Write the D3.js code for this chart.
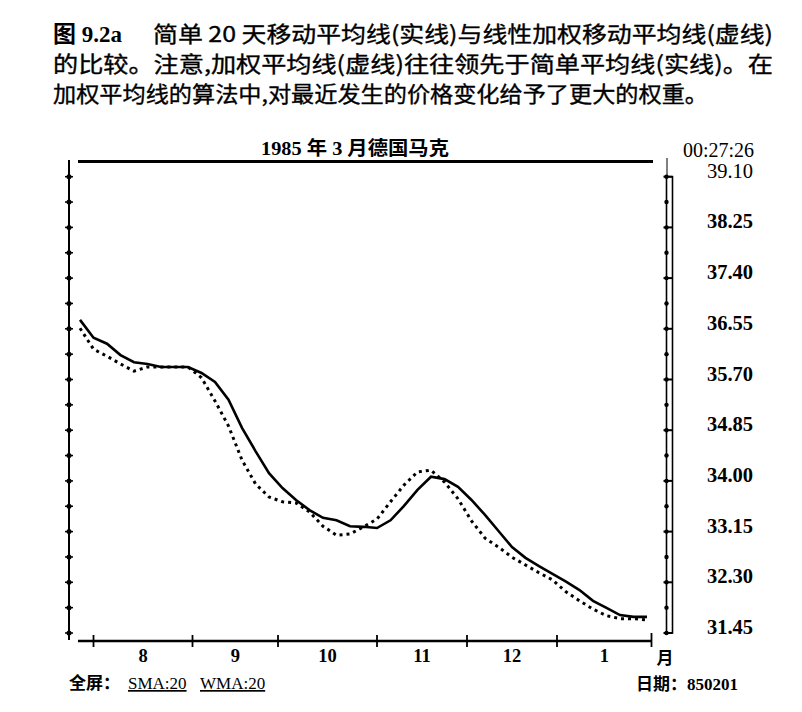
<!DOCTYPE html>
<html>
<head>
<meta charset="utf-8">
<script src="https://cdn.jsdelivr.net/npm/d3@7"></script>
<style>
  body { margin: 0; background: #fff; }
  svg { display: block; }
</style>
</head>
<body>
<div id="chart"></div>
<script>
// trading-day index of each reading (Jul 1984 .. Feb 1985)
const days = [0, 3, 6, 9, 12, 15, 18, 21, 24, 27, 30, 33, 36, 39, 42, 45, 48, 51, 54, 57, 60,
  63, 66, 69, 72, 75, 78, 81, 84, 87, 90, 93, 96, 99, 102, 105, 108, 111, 114, 117, 120, 123, 126];

// simple 20-day moving average (solid)
const sma = [36.70, 36.40, 36.30, 36.11, 35.99, 35.96, 35.91, 35.91, 35.91, 35.81, 35.66,
  35.36, 34.89, 34.50, 34.13, 33.88, 33.68, 33.51, 33.38, 33.34, 33.24, 33.23, 33.21, 33.34,
  33.58, 33.85, 34.07, 34.03, 33.90, 33.68, 33.43, 33.16, 32.89, 32.71, 32.57, 32.44, 32.31,
  32.17, 31.99, 31.87, 31.75, 31.72, 31.72];

// linearly weighted 20-day moving average (dashed)
const wma = [36.56, 36.21, 36.09, 35.96, 35.84, 35.91, 35.91, 35.91, 35.91, 35.73, 35.34,
  34.92, 34.35, 33.95, 33.73, 33.65, 33.63, 33.48, 33.24, 33.09, 33.11, 33.23, 33.36, 33.65,
  33.93, 34.15, 34.18, 33.98, 33.70, 33.33, 33.04, 32.89, 32.72, 32.59, 32.46, 32.34, 32.14,
  31.99, 31.85, 31.74, 31.69, 31.69, 31.67];

// month boundaries (day index) and labels
const monthStarts = [3, 25, 44, 66, 86, 106, 127];
const monthLabels = ["8", "9", "10", "11", "12", "1"];

const yTickLabels = ["39.10", "38.25", "37.40", "36.55", "35.70", "34.85", "34.00", "33.15", "32.30", "31.45"];

const width = 802;
const height = 712;
const serif = "'Liberation Serif', 'Noto Sans CJK SC', serif";
const cjk = "'Noto Sans CJK SC', sans-serif";

const svg = d3.select("#chart")
  .append("svg")
  .attr("width", width)
  .attr("height", height);

// scales
const x = d3.scaleLinear().domain([0, 127]).range([80, 651.5]);
const y = d3.scaleLinear().domain([31.45, 39.10]).range([633, 176.7]);

// caption above the chart
svg.append("text")
  .attr("x", 53).attr("y", 42)
  .attr("font-family", serif).attr("font-size", 23).attr("font-weight", "bold")
  .text("图 9.2a");
const caption = [
  { x: 153, y: 42, w: 620, t: "简单 20 天移动平均线(实线)与线性加权移动平均线(虚线)" },
  { x: 53, y: 72, w: 720, t: "的比较。注意,加权平均线(虚线)往往领先于简单平均线(实线)。在" },
  { x: 53, y: 102, w: 655, t: "加权平均线的算法中,对最近发生的价格变化给予了更大的权重。" }
];
svg.append("g").selectAll("text")
  .data(caption)
  .join("text")
  .attr("x", d => d.x).attr("y", d => d.y)
  .attr("font-family", cjk).attr("font-size", 22)
  .attr("stroke", "#000").attr("stroke-width", 0.35)
  .attr("textLength", d => d.w).attr("lengthAdjust", "spacingAndGlyphs")
  .text(d => d.t);

// chart title + top rule
svg.append("text")
  .attr("x", 261).attr("y", 155)
  .attr("font-family", serif).attr("font-size", 19).attr("font-weight", "bold")
  .attr("textLength", 188).attr("lengthAdjust", "spacingAndGlyphs")
  .text("1985 年 3 月德国马克");
svg.append("line")
  .attr("x1", 78).attr("x2", 653).attr("y1", 161.5).attr("y2", 161.5)
  .attr("stroke", "#000").attr("stroke-width", 3);

svg.append("text")
  .attr("x", 683).attr("y", 157)
  .attr("font-family", serif).attr("font-size", 20)
  .text("00:27:26");

// minor ticks every half step of the labelled values
const minorTicks = d3.range(19).map(k => 31.45 + k * 0.425);

// left axis
svg.append("line")
  .attr("x1", 69).attr("x2", 69).attr("y1", 160).attr("y2", 640)
  .attr("stroke", "#000").attr("stroke-width", 2);
svg.append("g").selectAll("g")
  .data(minorTicks)
  .join("g")
  .attr("transform", d => `translate(69,${y(d)})`)
  .call(g => g.append("line").attr("x1", -4).attr("x2", 4)
    .attr("stroke", "#000").attr("stroke-width", 1.5))
  .call(g => g.append("circle").attr("r", 2.5).attr("fill", "#000"));

// right axis (double rule)
svg.append("line")
  .attr("x1", 667).attr("x2", 667).attr("y1", 158).attr("y2", y(39.10))
  .attr("stroke", "#000").attr("stroke-width", 1);
svg.append("rect")
  .attr("x", 666.5).attr("y", y(39.10))
  .attr("width", 6).attr("height", y(31.45) - y(39.10))
  .attr("fill", "none").attr("stroke", "#000").attr("stroke-width", 1.6);
svg.append("g").selectAll("g")
  .data(minorTicks)
  .join("g")
  .attr("transform", d => `translate(666.5,${y(d)})`)
  .call(g => g.append("line").attr("x1", -3).attr("x2", 6)
    .attr("stroke", "#000").attr("stroke-width", (d, i) => i % 2 === 0 ? 2 : 0))
  .call(g => g.append("circle").attr("r", 2.2).attr("fill", "#000"));

// right tick labels
svg.append("g").selectAll("text")
  .data(yTickLabels)
  .join("text")
  .attr("x", 753)
  .attr("y", d => y(+d) + 1)
  .attr("text-anchor", "end")
  .attr("font-family", serif).attr("font-size", 20.5)
  .attr("font-weight", (d, i) => i === 0 ? "normal" : "bold")
  .text(d => d);

// bottom axis
svg.append("line")
  .attr("x1", 78).attr("x2", 652).attr("y1", 641).attr("y2", 641)
  .attr("stroke", "#000").attr("stroke-width", 2.5);
svg.append("g").selectAll("line")
  .data(monthStarts)
  .join("line")
  .attr("x1", d => x(d)).attr("x2", d => x(d))
  .attr("y1", (d, i) => i === monthStarts.length - 1 ? 633 : 635)
  .attr("y2", 647)
  .attr("stroke", "#000").attr("stroke-width", 1.8);
svg.append("g").selectAll("text")
  .data(monthLabels)
  .join("text")
  .attr("x", (d, i) => (x(monthStarts[i]) + x(monthStarts[i + 1])) / 2)
  .attr("y", 662)
  .attr("text-anchor", "middle")
  .attr("font-family", serif).attr("font-size", 18.5).attr("font-weight", "bold")
  .text(d => d);
svg.append("text")
  .attr("x", 665).attr("y", 664)
  .attr("text-anchor", "middle")
  .attr("font-family", cjk).attr("font-size", 17).attr("font-weight", "bold")
  .text("月");

// moving average lines
const line = d3.line()
  .x((d, i) => x(days[i]))
  .y(d => y(d));

svg.append("path")
  .datum(wma)
  .attr("d", line)
  .attr("fill", "none")
  .attr("stroke", "#000")
  .attr("stroke-width", 3)
  .attr("stroke-dasharray", "3,4");

svg.append("path")
  .datum(sma)
  .attr("d", line)
  .attr("fill", "none")
  .attr("stroke", "#000")
  .attr("stroke-width", 2.6);

// footer
const foot = svg.append("text")
  .attr("x", 69).attr("y", 689)
  .attr("font-size", 17);
foot.append("tspan").attr("font-family", cjk).attr("font-weight", "bold").text("全屏：");
foot.append("tspan").attr("x", 128).attr("font-family", serif)
  .attr("text-decoration", "underline").text("SMA:20");
foot.append("tspan").attr("x", 200).attr("font-family", serif)
  .attr("text-decoration", "underline").text("WMA:20");

const date = svg.append("text")
  .attr("x", 636).attr("y", 690)
  .attr("font-size", 17).attr("font-weight", "bold");
date.append("tspan").attr("font-family", cjk).text("日期：");
date.append("tspan").attr("font-family", serif).text("850201");
</script>
</body>
</html>
